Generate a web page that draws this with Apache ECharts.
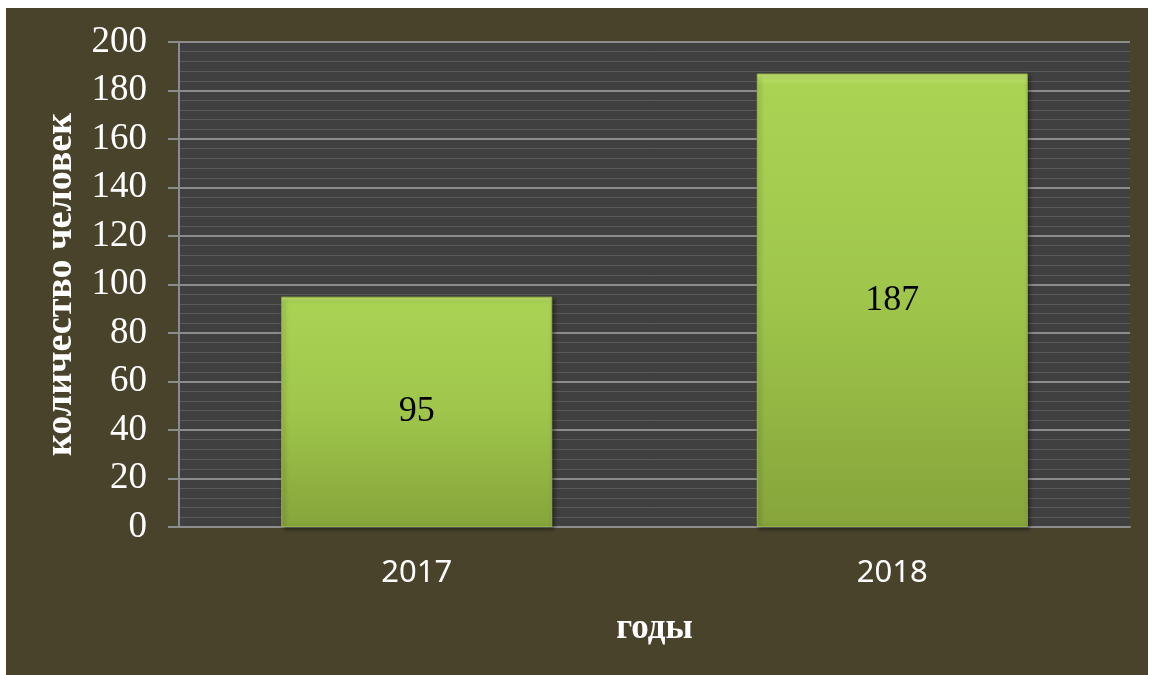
<!DOCTYPE html>
<html>
<head>
<meta charset="utf-8">
<script src="https://cdn.jsdelivr.net/npm/echarts@6/dist/echarts.min.js"></script>
<style>
  html, body { margin: 0; padding: 0; background: #ffffff; }
  #chart { position: absolute; left: 6px; top: 8px; width: 1142px; height: 667px; }
</style>
</head>
<body>
<div id="chart"></div>
<script>
const years = ["2017", "2018"];
const people = [95, 187];
const yTicks = [0, 20, 40, 60, 80, 100, 120, 140, 160, 180, 200];

const chart = echarts.init(document.getElementById("chart"));

const barFill = new echarts.graphic.LinearGradient(0, 0, 0, 1, [
  { offset: 0, color: "#c8e874" },
  { offset: 0.025, color: "#aad354" },
  { offset: 0.5, color: "#9fc64b" },
  { offset: 1, color: "#86a43b" },
]);

chart.setOption({
  backgroundColor: "#4a432c",
  animation: false,
  grid: {
    left: 173,
    right: 18,
    top: 34,
    bottom: 148,
    show: true,
    backgroundColor: "#404040",
    borderWidth: 0,
  },
  xAxis: {
    type: "category",
    data: years,
    name: "годы",
    nameLocation: "middle",
    nameGap: 84,
    nameTextStyle: {
      color: "#ffffff",
      fontFamily: "Liberation Serif",
      fontWeight: "bold",
      fontSize: 35,
    },
    axisLine: { show: true, lineStyle: { color: "#8e8e8e", width: 2 } },
    axisTick: { show: false },
    axisLabel: {
      color: "#ffffff",
      fontFamily: "Noto Sans",
      fontSize: 31,
      margin: 31,
    },
  },
  yAxis: {
    type: "value",
    min: yTicks[0],
    max: yTicks[yTicks.length - 1],
    interval: 20,
    name: "количество человек",
    nameLocation: "middle",
    nameGap: 96,
    nameTextStyle: {
      color: "#ffffff",
      fontFamily: "Liberation Serif",
      fontWeight: "bold",
      fontSize: 38,
    },
    axisLine: { show: true, lineStyle: { color: "#8a8a92", width: 2 } },
    axisTick: { show: true, length: 11, lineStyle: { color: "#8c8c8c", width: 2 } },
    axisLabel: {
      color: "#ffffff",
      fontFamily: "Liberation Serif",
      fontSize: 37,
      margin: 32,
    },
    splitLine: { show: true, lineStyle: { color: "#8c8c8c", width: 2 } },
    minorTick: { show: false, splitNumber: 5 },
    minorSplitLine: { show: true, lineStyle: { color: "#5a5a5a", width: 1 } },
  },
  series: [
    {
      type: "bar",
      data: people,
      barWidth: "57%",
      itemStyle: {
        color: barFill,
        borderColor: "#93b545",
        borderWidth: 1,
        shadowColor: "rgba(0,0,0,0.45)",
        shadowBlur: 4,
        shadowOffsetX: 2,
        shadowOffsetY: 2,
      },
      label: {
        show: true,
        position: "inside",
        color: "#000000",
        fontFamily: "Liberation Serif",
        fontSize: 36,
      },
    },
  ],
});
</script>
</body>
</html>
